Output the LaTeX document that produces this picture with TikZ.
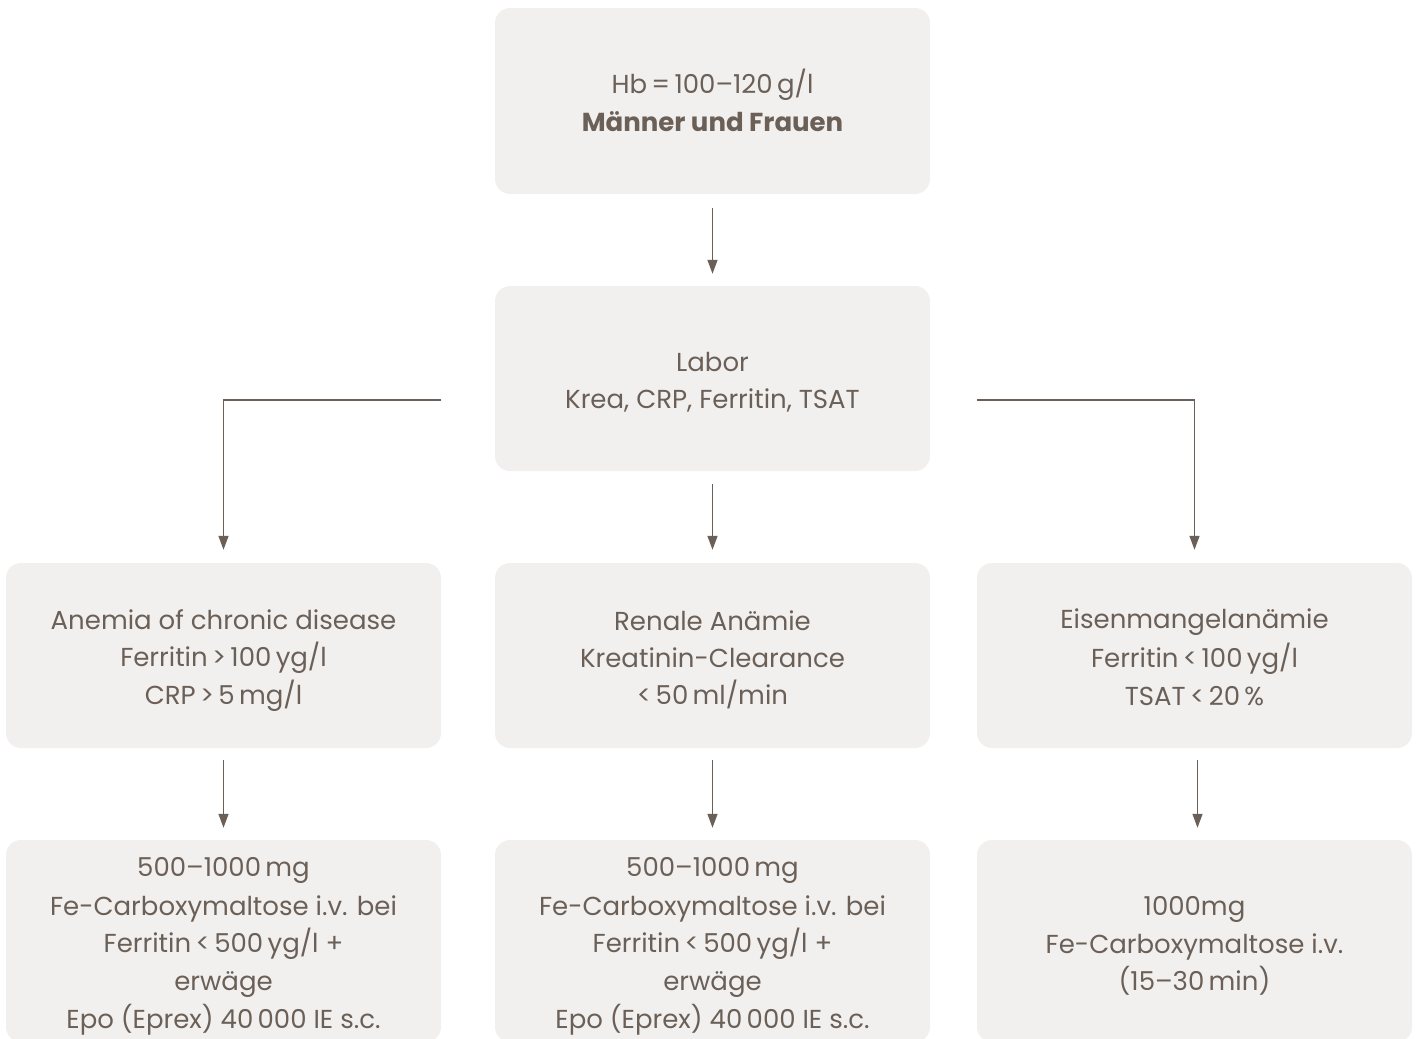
\documentclass[tikz,border=0pt]{standalone}
\usepackage{fontspec}
\setmainfont{Poppins}
\usetikzlibrary{arrows.meta}
\definecolor{txt}{HTML}{6B6058}
\definecolor{boxfill}{HTML}{F2F0EE}
\newcommand{\lnstrut}{\rule[-7pt]{0pt}{37pt}}
\begin{document}
\begin{tikzpicture}[x=1pt,y=-1pt,
  box/.style={fill=boxfill,rounded corners=15pt,minimum width=435pt,inner sep=0pt,align=center,
     text=txt,font=\fontsize{26}{37}\selectfont},
  conn/.style={draw=txt,line width=1.3pt,-{Triangle[length=14pt,width=10pt]}}]
\useasboundingbox (0,0) rectangle (1417,1039);
\clip (0,0) rectangle (1417,1039);
\node[box,minimum height=186pt] (hb) at (712.5,101) {\lnstrut Hb\,=\,100–120\,g/l\\\lnstrut\textbf{Männer und Frauen}};
\node[box,minimum height=185pt] (labor) at (712.5,378.5) {\lnstrut Labor\\\lnstrut Krea, CRP, Ferritin, TSAT};
\node[box,minimum height=185pt] (acd) at (223.5,655.5) {\lnstrut Anemia of chronic disease\\\lnstrut Ferritin\,>\,100\,yg/l\\\lnstrut CRP\,>\,5\,mg/l};
\node[box,minimum height=185pt] (ren) at (712.5,655.5) {\lnstrut Renale Anämie\\\lnstrut Kreatinin-Clearance\\\lnstrut <\,50\,ml/min};
\node[box,minimum height=185pt] (eis) at (1194.5,655.5) {\lnstrut Eisenmangelanämie\\\lnstrut Ferritin\,<\,100\,yg/l\\\lnstrut TSAT\,<\,20\,\%};
\node[box,minimum height=202pt] (t1) at (223.5,941) {\lnstrut 500–1000\,mg\\\lnstrut Fe-Carboxymaltose i.v. bei\\\lnstrut Ferritin\,<\,500\,yg/l +\\\lnstrut erwäge\\\lnstrut Epo (Eprex) 40\,000 IE s.c.};
\node[box,minimum height=202pt] (t2) at (712.5,941) {\lnstrut 500–1000\,mg\\\lnstrut Fe-Carboxymaltose i.v. bei\\\lnstrut Ferritin\,<\,500\,yg/l +\\\lnstrut erwäge\\\lnstrut Epo (Eprex) 40\,000 IE s.c.};
\node[box,minimum height=202pt] (t3) at (1194.5,941) {\lnstrut 1000mg\\\lnstrut Fe-Carboxymaltose i.v.\\\lnstrut (15–30\,min)};
\coordinate (lstart) at (441,400);
\coordinate (rstart) at (977,400);
\draw[conn,shorten <=14pt,shorten >=12pt] (hb) -- (labor);
\draw[conn,shorten <=13pt,shorten >=13pt] (labor) -- (ren);
\draw[conn,shorten >=13pt] (lstart) -| (acd.north);
\draw[conn,shorten >=13pt] (rstart) -| (eis.north);
\draw[conn,shorten <=12pt,shorten >=12pt] (acd) -- (t1);
\draw[conn,shorten <=12pt,shorten >=12pt] (ren) -- (t2);
\draw[conn,shorten <=12pt,shorten >=12pt] ([xshift=3pt]eis.south) -- ([xshift=3pt]t3.north);
\end{tikzpicture}
\end{document}
